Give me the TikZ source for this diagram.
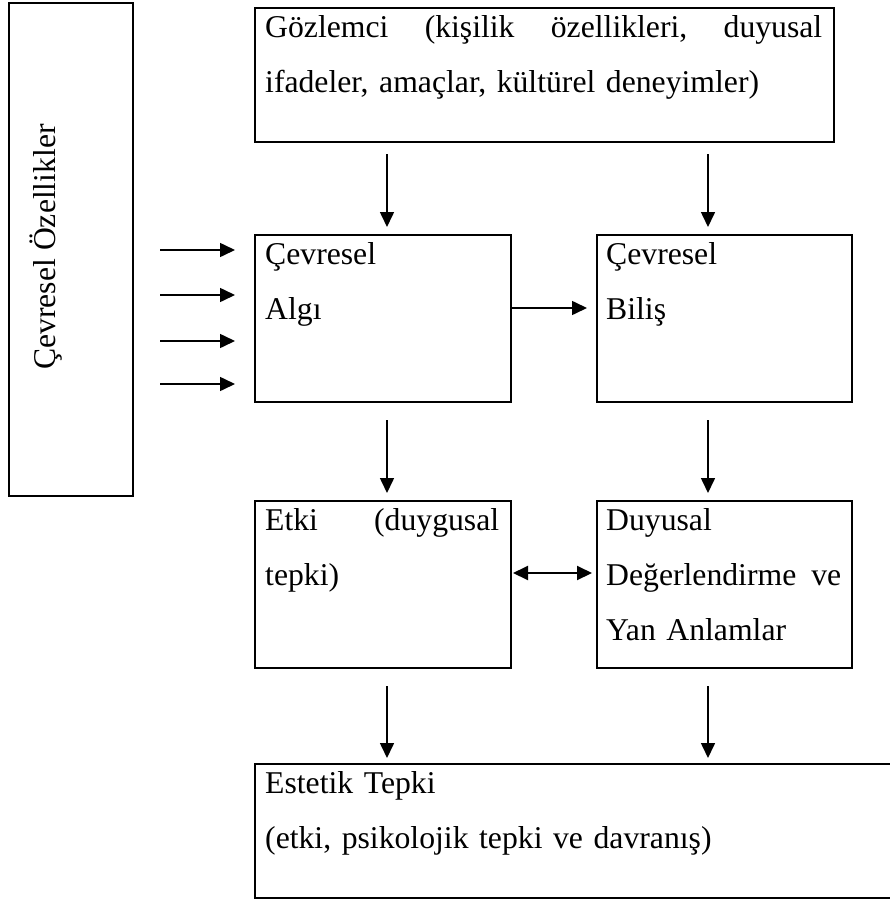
\documentclass[tikz,border=0pt]{standalone}
\usepackage{fontspec}
\setmainfont{Liberation Serif}
\usetikzlibrary{arrows.meta}
\begin{document}
\begin{tikzpicture}[x=1pt,y=-1pt,
  box/.style={draw, line width=2pt, rectangle, inner sep=0pt, anchor=north west},
  txt/.style={anchor=north west, inner sep=0pt, align=left, font=\fontsize{31.7}{55}\selectfont},
  arr/.style={line width=1.6pt, -{Triangle[length=15pt,width=14pt]}},
  darr/.style={line width=2pt, {Triangle[length=15pt,width=14pt]}-{Triangle[length=15pt,width=14pt]}}]
\useasboundingbox (0,0) rectangle (890,899);
\clip (0,0) rectangle (890,899);
% boxes
\node[box, minimum width=124pt, minimum height=493pt] (ozellik) at (8,2) {};
\node[box, minimum width=579pt, minimum height=134pt] (gozlemci) at (254,7) {};
\node[box, minimum width=256pt, minimum height=167pt] (algi) at (254,234) {};
\node[box, minimum width=255pt, minimum height=167pt] (bilis) at (596,234) {};
\node[box, minimum width=256pt, minimum height=167pt] (etki) at (254,500) {};
\node[box, minimum width=255pt, minimum height=167pt] (duyusal) at (596,500) {};
\node[box, minimum width=660pt, minimum height=134pt] (estetik) at (254,763) {};
% texts
\node[rotate=90, anchor=base, inner sep=0pt, font=\fontsize{31.7}{55}\selectfont] (tozellik) at (55,247) {Çevresel Özellikler};
\node[txt, text width=557pt] (tgozlemci) at ([xshift=11pt]gozlemci.north west)
  {\rule{0pt}{30pt}\makebox[557pt][l]{Gözlemci \hfill(kişilik \hfill özellikleri, \hfill duyusal}\\ifadeler, amaçlar, kültürel deneyimler)};
\node[txt, text width=234pt] (talgi) at ([xshift=11pt]algi.north west)
  {\rule{0pt}{30pt}Çevresel\\Algı};
\node[txt, text width=234pt] (tbilis) at ([xshift=10pt]bilis.north west)
  {\rule{0pt}{30pt}Çevresel\\Biliş};
\node[txt, text width=234pt] (tetki) at ([xshift=11pt]etki.north west)
  {\rule{0pt}{30pt}\makebox[234pt][l]{Etki \hfill(duygusal}\\tepki)};
\node[txt, text width=235pt] (tduyusal) at ([xshift=10pt]duyusal.north west)
  {\rule{0pt}{30pt}Duyusal\\\makebox[235pt][l]{Değerlendirme \hfill ve}\\Yan Anlamlar};
\node[txt, text width=600pt] (testetik) at ([xshift=11pt]estetik.north west)
  {\rule{0pt}{30pt}Estetik Tepki\\(etki, psikolojik tepki ve davranış)};
% helper coordinates
\coordinate (c1) at (387,0);
\coordinate (c2) at (708,0);
\coordinate (r1) at (0,308);
\coordinate (r2) at (0,573);
\coordinate (s1) at (160,250);
\coordinate (s2) at (160,295);
\coordinate (s3) at (160,341);
\coordinate (s4) at (160,384);
% connectors
\draw[arr] ([yshift=-11pt]gozlemci.south -| c1) -- ([yshift=7pt]algi.north -| c1);
\draw[arr] ([yshift=-11pt]gozlemci.south -| c2) -- ([yshift=7pt]bilis.north -| c2);
\draw[arr] ([yshift=-17pt]algi.south -| c1) -- ([yshift=7pt]etki.north -| c1);
\draw[arr] ([yshift=-17pt]bilis.south -| c2) -- ([yshift=7pt]duyusal.north -| c2);
\draw[arr] ([yshift=-17pt]etki.south -| c1) -- ([yshift=5pt]estetik.north -| c1);
\draw[arr] ([yshift=-17pt]duyusal.south -| c2) -- ([yshift=5pt]estetik.north -| c2);
\draw[arr] (algi.east |- r1) -- ([xshift=-9pt]bilis.west |- r1);
\draw[darr] ([xshift=1pt]etki.east |- r2) -- ([xshift=-4pt]duyusal.west |- r2);
\foreach \s in {s1,s2,s3,s4}
  \draw[arr] (\s) -- ([xshift=-19pt]\s -| algi.west);
\end{tikzpicture}
\end{document}
